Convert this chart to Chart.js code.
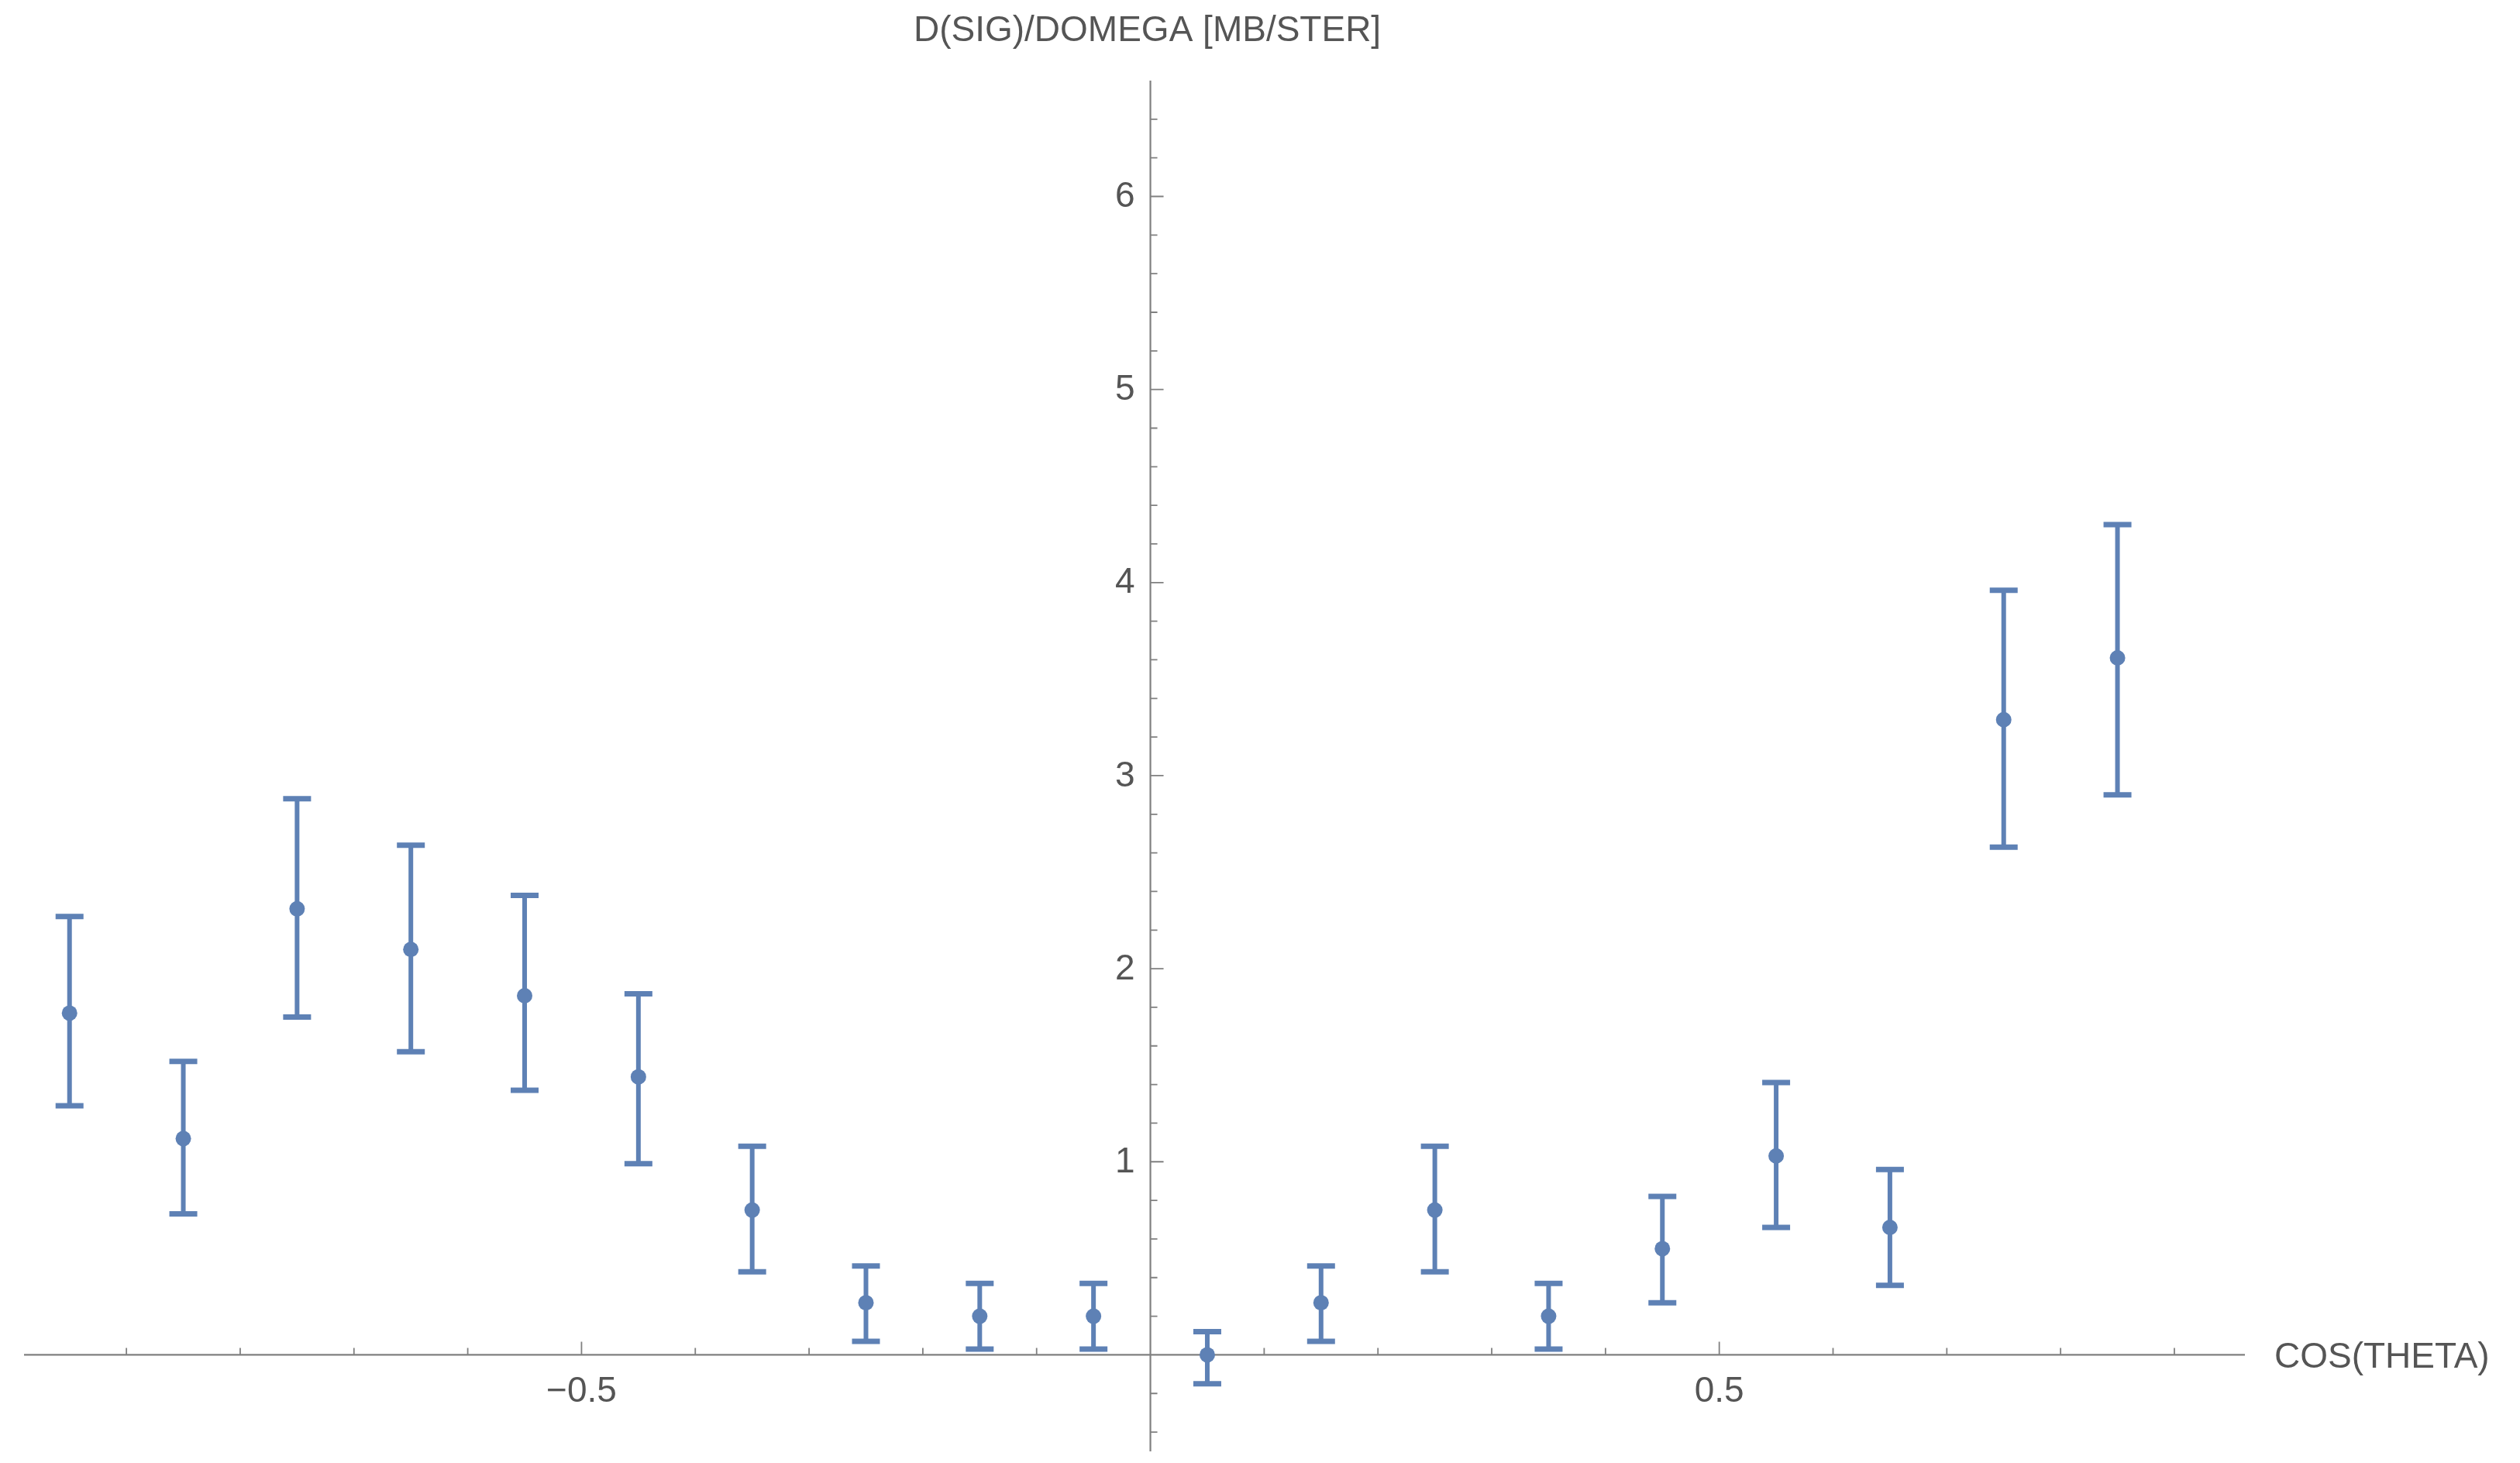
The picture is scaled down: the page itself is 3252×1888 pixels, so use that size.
<!DOCTYPE html>
<html><head><meta charset="utf-8">
<script src="https://cdn.jsdelivr.net/npm/chart.js@4/dist/chart.umd.min.js"></script>
<style>html,body{margin:0;padding:0;background:#fff;overflow:hidden}#wrap{position:relative;width:3252px;height:1888px}canvas{display:block}</style>
</head><body><div id="wrap"><canvas id="c" width="3252" height="1888"></canvas></div>
<script>
const cosTheta = [-0.95,-0.85,-0.75,-0.65,-0.55,-0.45,-0.35,-0.25,-0.15,-0.05,0.05,0.15,0.25,0.35,0.45,0.55,0.65,0.75,0.85];
const dSigma   = [1.77,1.12,2.31,2.10,1.86,1.44,0.75,0.27,0.20,0.20,0.00,0.27,0.75,0.20,0.55,1.03,0.66,3.29,3.61];
const errLow   = [1.29,0.73,1.75,1.57,1.37,0.99,0.43,0.07,0.03,0.03,-0.15,0.07,0.43,0.03,0.27,0.66,0.36,2.63,2.90];
const errHigh  = [2.27,1.52,2.88,2.64,2.38,1.87,1.08,0.46,0.37,0.37,0.12,0.46,1.08,0.37,0.82,1.41,0.96,3.96,4.30];
const xTickLabels = [-0.5, 0.5];
const yTickLabels = [1, 2, 3, 4, 5, 6];
const xTitle = 'COS(THETA)';
const yTitle = 'D(SIG)/DOMEGA [MB/STER]';

const BLUE = '#5E81B5';
const AXIS = '#808080';
const TEXT = '#555555';
const FONT = 'Liberation Sans, Arial, sans-serif';
const near = (a, b) => Math.abs(a - b) < 1e-9;
const noPad = s => { s.paddingTop = 0; s.paddingBottom = 0; s.paddingLeft = 0; s.paddingRight = 0; };

const axesPlugin = {
  id: 'axesPlugin',
  beforeDatasetsDraw(chart) {
    const {ctx, chartArea: ca} = chart;
    const ax = chart.scales.x, ay = chart.scales.y;
    const x0 = ax.getPixelForValue(0), y0 = ay.getPixelForValue(0);
    ctx.save();
    ctx.strokeStyle = AXIS;
    ctx.lineWidth = 2.2;
    ctx.beginPath();
    ctx.moveTo(ca.left, y0); ctx.lineTo(ca.right, y0);
    ctx.moveTo(x0, ca.top); ctx.lineTo(x0, ca.bottom);
    ctx.stroke();
    ctx.lineWidth = 1.8;
    ctx.beginPath();
    ax.ticks.forEach(t => {
      if (near(t.value, 0)) return;
      const px = ax.getPixelForValue(t.value);
      const len = xTickLabels.some(v => near(v, t.value)) ? 17 : 9;
      ctx.moveTo(px, y0); ctx.lineTo(px, y0 - len);
    });
    ay.ticks.forEach(t => {
      if (near(t.value, 0)) return;
      const py = ay.getPixelForValue(t.value);
      const len = yTickLabels.some(v => near(v, t.value)) ? 17 : 9;
      ctx.moveTo(x0, py); ctx.lineTo(x0 + len, py);
    });
    ctx.stroke();
    // y tick labels
    ctx.fillStyle = TEXT;
    ctx.font = '46px ' + FONT;
    ctx.textAlign = 'right'; ctx.textBaseline = 'middle';
    yTickLabels.forEach(v => ctx.fillText(String(v), x0 - 20, ay.getPixelForValue(v) + 1));
    // error bars
    ctx.strokeStyle = BLUE;
    cosTheta.forEach((c, i) => {
      const px = ax.getPixelForValue(c);
      const pLo = ay.getPixelForValue(errLow[i]);
      const pHi = ay.getPixelForValue(errHigh[i]);
      ctx.lineWidth = 6;
      ctx.beginPath(); ctx.moveTo(px, pLo); ctx.lineTo(px, pHi); ctx.stroke();
      ctx.lineWidth = 7;
      ctx.beginPath();
      ctx.moveTo(px - 18, pLo); ctx.lineTo(px + 18, pLo);
      ctx.moveTo(px - 18, pHi); ctx.lineTo(px + 18, pHi);
      ctx.stroke();
    });
    // titles
    ctx.textAlign = 'center'; ctx.textBaseline = 'middle';
    ctx.fillText(yTitle, x0 - 4, 40);
    ctx.textAlign = 'left';
    ctx.fillText(xTitle, ca.right + 38, y0 + 4);
    ctx.restore();
  }
};

new Chart(document.getElementById('c'), {
  type: 'scatter',
  data: {
    datasets: [{
      data: cosTheta.map((c, i) => ({x: c, y: dSigma[i]})),
      backgroundColor: BLUE, borderColor: BLUE,
      pointRadius: 10, pointBorderWidth: 0, showLine: false
    }]
  },
  options: {
    responsive: false, animation: false, devicePixelRatio: 1,
    layout: {autoPadding: false, padding: {left: 31, right: 355, top: 104, bottom: 15}},
    plugins: {legend: {display: false}, tooltip: {enabled: false}},
    scales: {
      x: {
        type: 'linear', position: {y: 0}, min: -0.99, max: 0.962,
        grid: {display: false}, border: {display: false}, afterFit: noPad,
        ticks: {
          stepSize: 0.1, includeBounds: false, autoSkip: false, maxRotation: 0,
          color: TEXT, font: {size: 46, family: FONT}, padding: 12,
          callback: v => { const m = xTickLabels.find(l => near(l, v)); return m === undefined ? '' : (m < 0 ? '\u2212' + Math.abs(m) : String(m)); }
        }
      },
      y: {
        type: 'linear', position: {x: 0}, min: -0.5, max: 6.6,
        grid: {display: false}, border: {display: false}, afterFit: noPad,
        ticks: { display: false, stepSize: 0.2, includeBounds: false, autoSkip: false }
      }
    }
  },
  plugins: [axesPlugin]
});
</script></body></html>
